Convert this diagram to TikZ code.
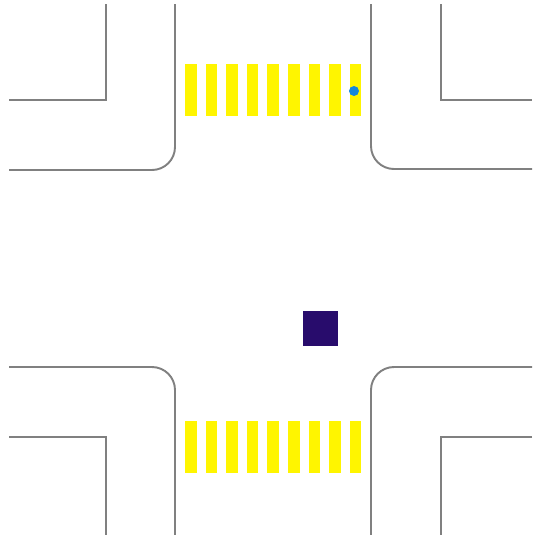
\documentclass[tikz,border=0pt]{standalone}
\usepackage{tikz}

\definecolor{curbgray}{RGB}{128,128,128}
\definecolor{stripeyellow}{RGB}{255,245,0}
\definecolor{pedblue}{RGB}{20,135,220}
\definecolor{carblue}{RGB}{40,12,108}

\begin{document}
\begin{tikzpicture}[
          x=0.02cm, y=-0.02cm,
          curb/.style={draw=curbgray, line width=1.1pt},
          corner/.style={curb, rounded corners=4.6mm},
          stripe/.style={fill=stripeyellow},
          car/.style={fill=carblue, minimum size=7mm, inner sep=0pt},
          walker/.style={circle, fill=pedblue, minimum size=2mm, inner sep=0pt}
        ]
        \useasboundingbox (0,0) rectangle (532,535);
        % curbs
        \draw[corner] (175,4) |- (9,170);
        \draw[corner] (371,4) |- (532,169);
        \draw[corner] (9,367) -| (175,535);
        \draw[corner] (532,367) -| (371,535);
        % sidewalk edges
        \draw[curb] (106,4) |- (9,100);
        \draw[curb] (441,4) |- (532,100);
        \draw[curb] (9,437) -| (106,535);
        \draw[curb] (532,437) -| (441,535);
        % crossings
        \foreach \i in {0,...,8} {
          \fill[stripe] ({185+20.6*\i},64) rectangle ++(11.5,52);
          \fill[stripe] ({185+20.6*\i},421) rectangle ++(11.5,52);
        }
        \node[car] (car) at (320.5,328.5) {};
        \node[walker] (ped) at (354,91) {};
      \end{tikzpicture}
\end{document}
